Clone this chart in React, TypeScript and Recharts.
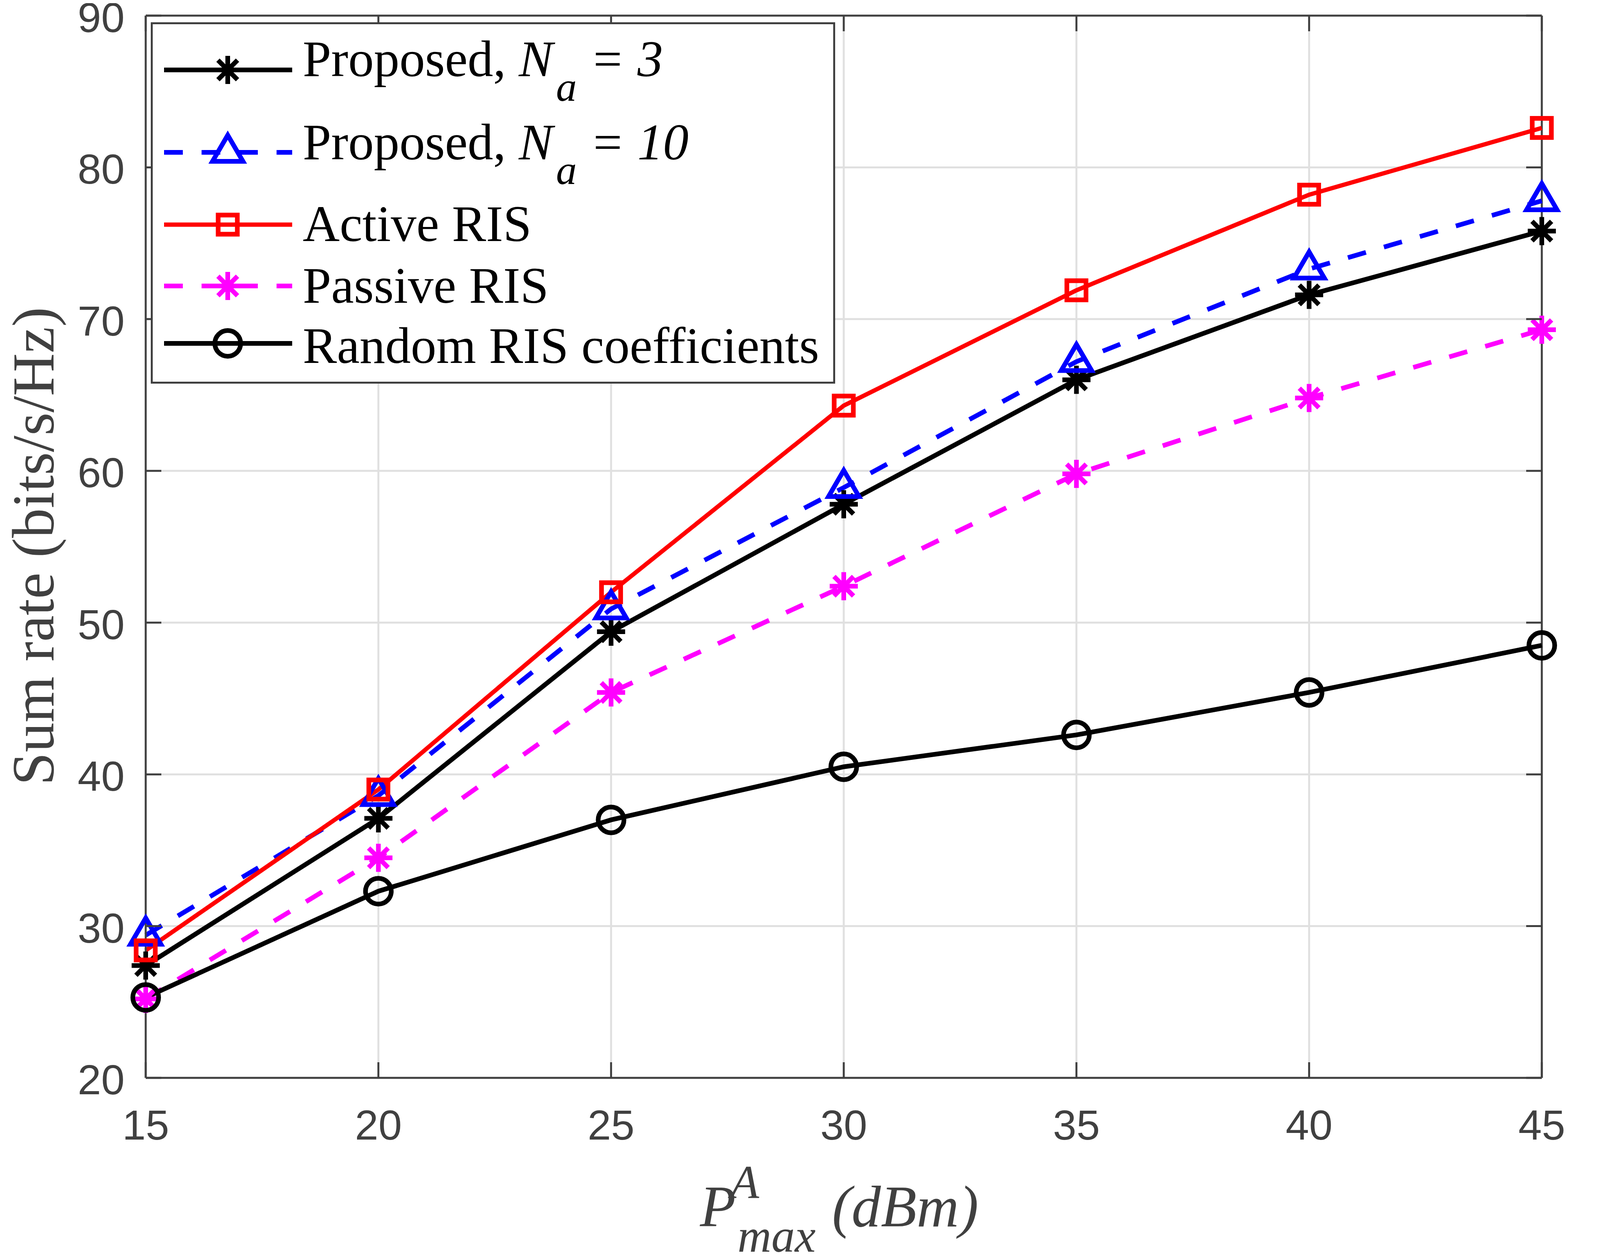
import React from 'react';
import { LineChart, Line, XAxis, YAxis, CartesianGrid, Legend, ReferenceLine } from 'recharts';

// ---------- data ----------
const powerDbm = [15, 20, 25, 30, 35, 40, 45];
const proposedNa3 = [27.4, 37.1, 49.4, 57.8, 66.0, 71.6, 75.8];
const proposedNa10 = [29.4, 38.6, 50.9, 58.9, 67.2, 73.3, 77.8];
const activeRis = [28.4, 39.0, 52.0, 64.3, 71.9, 78.2, 82.6];
const passiveRis = [25.2, 34.5, 45.4, 52.4, 59.8, 64.8, 69.3];
const randomRis = [25.3, 32.3, 37.0, 40.5, 42.6, 45.4, 48.5];
const xTicks = [15, 20, 25, 30, 35, 40, 45];
const yTicks = [20, 30, 40, 50, 60, 70, 80, 90];

const data = powerDbm.map((p, i) => ({
  p,
  na3: proposedNa3[i],
  na10: proposedNa10[i],
  active: activeRis[i],
  passive: passiveRis[i],
  random: randomRis[i],
}));

// ---------- layout / style ----------
const W = 4093;
const H = 3199;
const PLOT = { left: 365, top: 32, right: 3939, bottom: 2751 };
const AXIS = '#404040';
const GRID = '#e0e0e0';
const SANS = '"Liberation Sans", Arial, sans-serif';
const SERIF = '"Liberation Serif", "Times New Roman", serif';
const TICK_FONT = 108;

type MarkerKind = 'star' | 'triangle' | 'square' | 'circle';

const series: { key: string; color: string; width: number; dash?: string; marker: MarkerKind }[] = [
  { key: 'na3', color: '#000000', width: 12, marker: 'star' },
  { key: 'na10', color: '#0000ff', width: 12, dash: '48 48', marker: 'triangle' },
  { key: 'active', color: '#ff0000', width: 11, marker: 'square' },
  { key: 'passive', color: '#ff00ff', width: 12, dash: '48 48', marker: 'star' },
  { key: 'random', color: '#000000', width: 12, marker: 'circle' },
];

function Marker({ kind, cx, cy, color }: { kind: MarkerKind; cx: number; cy: number; color: string }) {
  if (kind === 'star') {
    const r = 36;
    const d = 25;
    return (
      <g stroke={color} strokeWidth={12}>
        <line x1={cx - r} y1={cy} x2={cx + r} y2={cy} />
        <line x1={cx} y1={cy - r} x2={cx} y2={cy + r} />
        <line x1={cx - d} y1={cy - d} x2={cx + d} y2={cy + d} />
        <line x1={cx - d} y1={cy + d} x2={cx + d} y2={cy - d} />
      </g>
    );
  }
  if (kind === 'triangle') {
    return (
      <path
        d={`M ${cx} ${cy - 44} L ${cx + 39} ${cy + 23} L ${cx - 39} ${cy + 23} Z`}
        fill="none"
        stroke={color}
        strokeWidth={12}
        strokeLinejoin="miter"
      />
    );
  }
  if (kind === 'square') {
    return <rect x={cx - 24.5} y={cy - 24.5} width={49} height={49} fill="none" stroke={color} strokeWidth={12} />;
  }
  return <circle cx={cx} cy={cy} r={33} fill="none" stroke={color} strokeWidth={12} />;
}

const makeDot = (kind: MarkerKind, color: string) => (props: any) => {
  const { cx, cy, index } = props;
  if (cx == null || cy == null) return <g key={`e-${index}`} />;
  return (
    <g key={`d-${kind}-${index}`}>
      <Marker kind={kind} cx={cx} cy={cy} color={color} />
    </g>
  );
};

// ---------- ticks ----------
const XTick = (props: any) => {
  const { x, y, payload } = props;
  return (
    <g>
      <line x1={x} x2={x} y1={y} y2={y - 40} stroke={AXIS} strokeWidth={5} />
      <line x1={x} x2={x} y1={PLOT.top} y2={PLOT.top + 40} stroke={AXIS} strokeWidth={5} />
      <text x={x} y={y + 158} textAnchor="middle" fontFamily={SANS} fontSize={TICK_FONT} fill={AXIS}>
        {payload.value}
      </text>
    </g>
  );
};

const YTick = (props: any) => {
  const { x, y, payload } = props;
  return (
    <g>
      <line x1={x} x2={x + 40} y1={y} y2={y} stroke={AXIS} strokeWidth={5} />
      <line x1={PLOT.right} x2={PLOT.right - 40} y1={y} y2={y} stroke={AXIS} strokeWidth={5} />
      <text x={x - 54} y={y + 42} textAnchor="end" fontFamily={SANS} fontSize={TICK_FONT} fill={AXIS}>
        {payload.value}
      </text>
    </g>
  );
};

// ---------- axis labels ----------
const renderXLabel = () => (
  <g fill={AXIS} fontFamily={SERIF} fontStyle="italic">
    <text x={1784} y={3131} fontSize={150}>P</text>
    <text x={1862} y={3059} fontSize={120}>A</text>
    <text x={1880} y={3196} fontSize={120}>max</text>
    <text x={2122} y={3131} fontSize={150}>(dBm)</text>
  </g>
);

const renderYLabel = () => (
  <text
    transform="translate(129,1390) rotate(-90)"
    textAnchor="middle"
    fontFamily={SERIF}
    fontSize={152}
    fill={AXIS}
  >
    Sum rate (bits/s/Hz)
  </text>
);

// ---------- legend ----------
const LEG = { left: 378, top: 49, width: 1752, height: 925 };
const rowLineY = [122, 333, 518, 675, 822];
const rowBaseY = [138, 351, 560, 718, 872];

const legendText = (i: number) => {
  if (i === 0 || i === 1) {
    return (
      <>
        <tspan>Proposed, </tspan>
        <tspan fontStyle="italic">N</tspan>
        <tspan fontStyle="italic" fontSize={106} dx={8} dy={63}>a</tspan>
        <tspan fontStyle="italic" dx={34} dy={-63}>{i === 0 ? '= 3' : '= 10'}</tspan>
      </>
    );
  }
  if (i === 2) return <tspan>Active RIS</tspan>;
  if (i === 3) return <tspan>Passive RIS</tspan>;
  return <tspan>Random RIS coefficients</tspan>;
};

const LegendBox = () => (
  <svg width={LEG.width} height={LEG.height} style={{ display: 'block' }}>
    <rect x={2.5} y={2.5} width={LEG.width - 5} height={LEG.height - 5} fill="#ffffff" stroke={AXIS} strokeWidth={5} />
    {series.map((s, i) => (
      <g key={s.key}>
        <line
          x1={34}
          x2={362}
          y1={rowLineY[i]}
          y2={rowLineY[i]}
          stroke={s.color}
          strokeWidth={s.width}
          strokeDasharray={s.dash}
        />
        <Marker kind={s.marker} cx={197} cy={rowLineY[i]} color={s.color} />
        <text x={389} y={rowBaseY[i]} fontFamily={SERIF} fontSize={131} fill="#000000">
          {legendText(i)}
        </text>
      </g>
    ))}
  </svg>
);

export default function App() {
  return (
    <LineChart
      width={W}
      height={H}
      data={data}
      margin={{ top: PLOT.top, right: W - PLOT.right, bottom: 0, left: 0 }}
    >
      <CartesianGrid stroke={GRID} strokeWidth={5} />
      <XAxis
        dataKey="p"
        type="number"
        domain={[15, 45]}
        ticks={xTicks}
        interval={0}
        height={H - PLOT.bottom}
        tickSize={0}
        tickMargin={0}
        tickLine={false}
        tick={XTick}
        axisLine={{ stroke: AXIS, strokeWidth: 5 }}
        label={renderXLabel}
      />
      <YAxis
        type="number"
        domain={[20, 90]}
        ticks={yTicks}
        interval={0}
        width={PLOT.left}
        tickSize={0}
        tickMargin={0}
        tickLine={false}
        tick={YTick}
        axisLine={{ stroke: AXIS, strokeWidth: 5 }}
        label={renderYLabel}
      />
      <ReferenceLine y={90} stroke={AXIS} strokeWidth={5} />
      <ReferenceLine x={45} stroke={AXIS} strokeWidth={5} />
      {series.map((s) => (
        <Line
          key={s.key}
          dataKey={s.key}
          type="linear"
          stroke={s.color}
          strokeWidth={s.width}
          strokeDasharray={s.dash}
          dot={makeDot(s.marker, s.color)}
          activeDot={false}
          isAnimationActive={false}
        />
      ))}
      <Legend
        layout="horizontal"
        verticalAlign="middle"
        align="center"
        content={() => <LegendBox />}
        wrapperStyle={{ left: LEG.left, top: LEG.top, width: LEG.width, height: LEG.height }}
      />
    </LineChart>
  );
}
